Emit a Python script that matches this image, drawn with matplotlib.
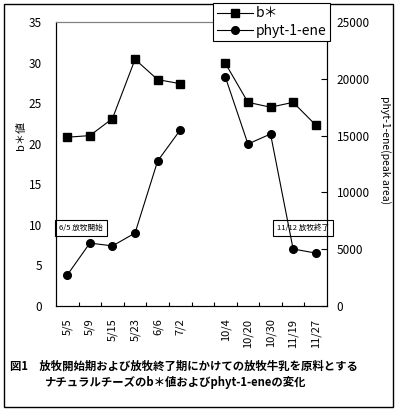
import numpy as np
import matplotlib
matplotlib.use('Agg')
import matplotlib.pyplot as plt
from matplotlib.patches import Rectangle

plt.rcParams['font.family'] = ['Noto Sans CJK JP', 'DejaVu Sans']

# ---- data ----
dates = ['5/5', '5/9', '5/15', '5/23', '6/6', '7/2', '',
         '10/4', '10/20', '10/30', '11/19', '11/27']
b_star = [20.8, 21.0, 23.1, 30.4, 27.9, 27.4, np.nan,
          29.9, 25.1, 24.5, 25.1, 22.3]
phytene = [2730, 5540, 5290, 6420, 12760, 15490, np.nan,
           20150, 14260, 15140, 5020, 4660]

W, H = 395, 409
fig = plt.figure(figsize=(W / 100, H / 100), dpi=100)
ax = fig.add_axes([56 / W, 1 - 306 / H, 271 / W, 284 / H])
ax2 = ax.twinx()

x = np.arange(len(dates))
l1, = ax.plot(x, b_star, color='black', lw=0.8, marker='s', ms=6,
              label='b＊')
l2, = ax2.plot(x, phytene, color='black', lw=0.8, marker='o', ms=5.5,
               label='phyt-1-ene')

ax.set_xlim(-0.5, len(dates) - 0.5)
ax.set_ylim(0, 35)
ax2.set_ylim(0, 25000)
ax.set_yticks(range(0, 36, 5))
ax2.set_yticks(range(0, 25001, 5000))

ax.set_xticks(np.arange(len(dates) - 1) + 0.5)
ax.set_xticklabels([])
ax.set_xticks(x, minor=True)
ax.set_xticklabels(dates, minor=True, rotation=90, fontsize=8)
ax.tick_params(axis='x', which='major', direction='in', length=3, width=0.8)
ax.tick_params(axis='x', which='minor', length=0, pad=9)
ax.tick_params(axis='y', length=0, labelsize=8.5, pad=10)
ax2.tick_params(axis='y', direction='in', length=4, width=0.8,
                labelsize=8.5, pad=7)

for a in (ax, ax2):
    a.spines['top'].set_color('gray')
    a.spines['top'].set_linewidth(0.8)
    for s in ('left', 'right', 'bottom'):
        a.spines[s].set_linewidth(0.8)

ax.set_ylabel('b＊値', fontsize=8)
ax.yaxis.set_label_coords(-0.11, 0.6)
ax2.set_ylabel('phyt-1-ene(peak area)', fontsize=7.5, rotation=-90)
ax2.yaxis.set_label_coords(1.235, 0.55)

leg = fig.legend(handles=[l1, l2], loc='upper right',
                 bbox_to_anchor=(330 / W, 1 - 3 / H), fontsize=10,
                 frameon=True, fancybox=False, edgecolor='black',
                 framealpha=1, borderpad=0.25, labelspacing=0.25,
                 handlelength=2.6, handletextpad=0.2, borderaxespad=0)
leg.get_frame().set_linewidth(0.8)

# annotation boxes
ax.text(0.012, 0.275, '6/5 放牧開始', transform=ax.transAxes, fontsize=5.5,
        ha='left', va='center',
        bbox=dict(boxstyle='square,pad=0.55', fc='white', ec='black', lw=0.8))
ax.text(0.815, 0.275, '11/12 放牧終了', transform=ax.transAxes, fontsize=5.5,
        ha='left', va='center', zorder=1,
        bbox=dict(boxstyle='square,pad=0.55', fc='white', ec='black', lw=0.8))

fig.text(10 / W, 1 - 366 / H,
         '図1　放牧開始期および放牧終了期にかけての放牧牛乳を原料とする',
         fontsize=8.2, fontweight='bold', ha='left', va='center')
fig.text(44 / W, 1 - 382 / H,
         'ナチュラルチーズのb＊値およびphyt-1-eneの変化',
         fontsize=8.2, fontweight='bold', ha='left', va='center')

fig.patches.append(Rectangle((4 / W, 1 - 407 / H), 389 / W, 403 / H,
                             transform=fig.transFigure, fill=False,
                             ec='black', lw=1.0))

fig.savefig('out.png', dpi=100)
